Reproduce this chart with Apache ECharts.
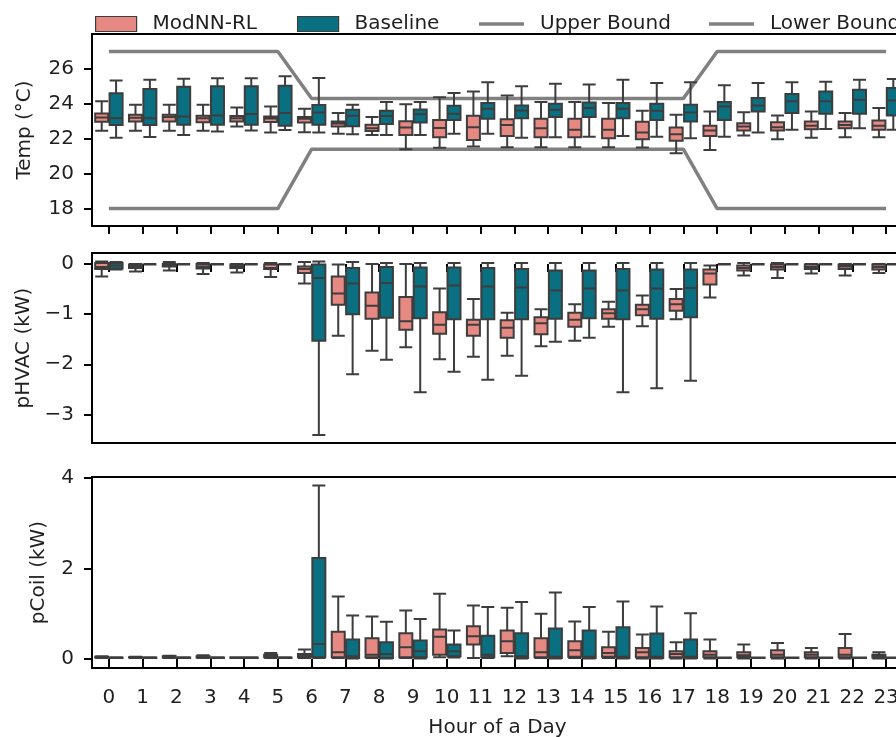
<!DOCTYPE html>
<html>
<head>
<meta charset="UTF-8">
<title>hourly boxplots</title>
<script src="https://cdn.jsdelivr.net/npm/echarts@6/dist/echarts.min.js"></script>
<style>
  body { margin: 0; background: #fff; }
  #chart { width: 896px; height: 737px; }
</style>
</head>
<body>
<div id="chart"></div>
<script>
// hour categories
var hours = ['0','1','2','3','4','5','6','7','8','9','10','11','12','13','14','15','16','17','18','19','20','21','22','23'];

// box stats per hour: [min, q1, median, q3, max]
var tempModNN = [
  [22.45,22.97,23.22,23.45,24.14],[22.45,22.98,23.2,23.37,23.95],[22.45,22.98,23.24,23.37,23.95],
  [22.45,22.95,23.18,23.31,23.95],[22.7,22.98,23.18,23.3,23.79],[22.35,22.96,23.16,23.28,23.85],
  [22.37,22.93,23.14,23.24,23.72],[22.28,22.7,22.87,22.98,23.47],[22.22,22.44,22.6,22.8,23.24],
  [21.4,22.22,22.65,23.0,23.97],[21.48,22.08,22.62,23.08,24.38],[21.55,21.93,22.66,23.31,24.71],
  [21.51,22.16,22.78,23.12,24.48],[21.51,22.08,22.6,23.14,24.1],[21.51,22.08,22.51,23.14,24.1],
  [21.51,22.03,22.51,23.14,24.04],[21.5,21.97,22.35,22.97,23.61],[21.17,21.89,22.26,22.64,23.37],
  [21.36,22.16,22.47,22.74,23.56],[22.18,22.47,22.7,22.89,23.52],[21.97,22.47,22.66,22.95,23.33],
  [22.06,22.55,22.75,22.98,23.56],[22.08,22.6,22.79,22.98,23.47],[22.08,22.51,22.74,23.04,23.76]
];
var tempBaseline = [
  [22.06,22.78,23.18,24.6,25.33],[22.1,22.78,23.18,24.85,25.38],[22.22,22.8,23.27,24.98,25.44],
  [22.41,22.8,23.33,25.0,25.46],[22.47,22.8,23.41,25.0,25.46],[22.5,22.75,23.47,25.04,25.58],
  [22.35,22.8,23.5,23.93,25.48],[22.26,22.72,23.32,23.66,23.94],[22.22,22.85,23.3,23.6,24.1],
  [22.22,22.93,23.4,23.68,24.11],[22.28,23.08,23.43,23.89,24.62],[22.28,23.14,23.72,24.04,25.23],
  [22.06,23.18,23.62,23.91,25.0],[22.08,23.24,23.66,24.0,25.15],[22.12,23.24,23.76,24.08,25.1],
  [22.16,23.18,23.72,24.04,25.38],[22.12,23.08,23.6,24.0,25.19],[22.03,22.98,23.5,23.95,25.23],
  [22.12,23.08,23.85,24.1,25.06],[22.35,23.56,23.91,24.33,25.19],[22.51,23.47,24.14,24.56,25.23],
  [22.56,23.43,24.14,24.71,25.27],[22.6,23.43,24.23,24.81,25.38],[22.51,23.33,24.19,24.91,25.42]
];
var upperBound = [27,27,27,27,27,27,24.3,24.3,24.3,24.3,24.3,24.3,24.3,24.3,24.3,24.3,24.3,24.3,27,27,27,27,27,27];
var lowerBound = [18,18,18,18,18,18,21.4,21.4,21.4,21.4,21.4,21.4,21.4,21.4,21.4,21.4,21.4,21.4,18,18,18,18,18,18];

var hvacModNN = [
  [-0.25,-0.1,-0.06,0.02,0.05],[-0.15,-0.08,-0.05,-0.01,0.0],[-0.13,-0.05,-0.03,0.0,0.04],
  [-0.2,-0.09,-0.05,0.0,0.02],[-0.17,-0.08,-0.04,-0.01,0.0],[-0.26,-0.1,-0.08,-0.01,0.02],
  [-0.39,-0.18,-0.1,-0.05,0.04],[-1.43,-0.81,-0.59,-0.25,-0.01],[-1.73,-1.09,-0.83,-0.57,0.0],
  [-1.66,-1.31,-1.14,-0.66,0.0],[-1.9,-1.39,-1.21,-0.96,-0.49],[-1.85,-1.43,-1.21,-1.11,-0.7],
  [-1.83,-1.47,-1.27,-1.12,-0.97],[-1.64,-1.4,-1.18,-1.06,-0.9],[-1.53,-1.25,-1.11,-0.97,-0.8],
  [-1.25,-1.09,-0.98,-0.9,-0.75],[-1.24,-1.02,-0.9,-0.81,-0.63],[-1.1,-0.93,-0.8,-0.7,-0.5],
  [-0.67,-0.41,-0.19,-0.11,-0.03],[-0.23,-0.13,-0.08,-0.03,0.02],[-0.28,-0.11,-0.06,-0.01,0.02],
  [-0.19,-0.1,-0.06,-0.01,0.0],[-0.23,-0.1,-0.05,-0.01,0.0],[-0.18,-0.11,-0.06,-0.01,0.0]
];
var hvacBaseline = [
  [-0.11,-0.09,-0.03,0.02,0.04],[-0.01,0,0,0,0],[-0.01,0,0,0,0],
  [-0.01,0,0,0,0],[-0.01,0,0,0,0],[-0.01,0,0,0,0],
  [-3.41,-1.53,-0.28,-0.01,0.05],[-2.2,-1.0,-0.39,-0.08,0.04],[-1.91,-1.07,-0.38,-0.06,0.02],
  [-2.56,-1.08,-0.45,-0.07,0.02],[-2.15,-1.1,-0.43,-0.07,0.02],[-2.31,-1.1,-0.45,-0.08,0.02],
  [-2.23,-1.1,-0.47,-0.1,0.02],[-1.55,-1.09,-0.53,-0.13,0.02],[-1.47,-1.08,-0.49,-0.13,0.02],
  [-2.56,-1.1,-0.53,-0.1,0.02],[-2.48,-1.09,-0.49,-0.11,0.02],[-2.33,-1.06,-0.48,-0.11,0.02],
  [-0.01,0,0,0,0],[-0.01,0,0,0,0],[-0.01,0,0,0,0],
  [-0.01,0,0,0,0],[-0.01,0,0,0,0],[-0.01,0,0,0,0]
];

var coilModNN = [
  [0.02,0.03,0.04,0.05,0.06],[0.02,0.03,0.03,0.04,0.05],[0.02,0.03,0.04,0.06,0.07],
  [0.02,0.03,0.04,0.06,0.08],[0.02,0.02,0.03,0.04,0.04],[0.02,0.04,0.06,0.09,0.13],
  [0.02,0.04,0.07,0.11,0.21],[0.02,0.04,0.15,0.6,1.38],[0.02,0.04,0.09,0.46,0.94],
  [0.02,0.04,0.26,0.57,1.07],[0.04,0.09,0.49,0.65,1.44],[0.02,0.32,0.5,0.72,1.18],
  [0.06,0.13,0.39,0.63,1.13],[0.02,0.04,0.15,0.46,1.0],[0.02,0.05,0.19,0.39,0.83],
  [0.02,0.05,0.13,0.26,0.6],[0.01,0.04,0.15,0.24,0.54],[0.01,0.04,0.11,0.17,0.37],
  [0.01,0.04,0.09,0.17,0.43],[0.01,0.04,0.08,0.15,0.32],[0.01,0.04,0.09,0.19,0.35],
  [0.01,0.04,0.09,0.15,0.24],[0.01,0.04,0.09,0.24,0.55],[0.01,0.03,0.05,0.09,0.15]
];
var coilBaseline = [
  [0.02,0.02,0.03,0.03,0.04],[0.02,0.02,0.03,0.03,0.04],[0.02,0.02,0.03,0.03,0.04],
  [0.02,0.02,0.03,0.03,0.04],[0.02,0.02,0.03,0.03,0.04],[0.02,0.02,0.03,0.03,0.04],
  [0.02,0.04,0.33,2.23,3.83],[0.01,0.02,0.06,0.43,0.96],[0.01,0.02,0.11,0.37,0.82],
  [0.01,0.04,0.17,0.41,0.88],[0.03,0.06,0.17,0.32,0.63],[0.02,0.04,0.09,0.51,1.15],
  [0.01,0.02,0.06,0.57,1.26],[0.01,0.02,0.05,0.67,1.47],[0.01,0.02,0.05,0.63,1.15],
  [0.01,0.02,0.05,0.7,1.27],[0.01,0.02,0.05,0.56,1.16],[0.01,0.02,0.05,0.43,1.01],
  [0.02,0.02,0.03,0.03,0.03],[0.02,0.02,0.03,0.03,0.03],[0.02,0.02,0.03,0.03,0.03],
  [0.02,0.02,0.03,0.03,0.03],[0.02,0.02,0.03,0.03,0.03],[0.02,0.02,0.03,0.03,0.03]
];

var PINK = '#e68982', TEAL = '#0a6f80', EDGE = '#3d3d3d', BOUND = '#808080';
var FONT = 'DejaVu Sans', FS = 20, INK = '#1f1f1f';

function minusFmt(v) { return String(v).replace('-', '\u2212'); }

function xAxisFor(idx, showLabels) {
  return {
    type: 'category', gridIndex: idx, data: hours, boundaryGap: true,
    axisLine: { show: false },
    axisTick: { show: true, alignWithLabel: true, length: 8, lineStyle: { color: '#000', width: 2 } },
    axisLabel: { show: showLabels, margin: 20, color: INK, fontFamily: FONT, fontSize: FS },
    name: showLabels ? 'Hour of a Day' : '', nameLocation: 'middle', nameGap: 50,
    nameTextStyle: { color: INK, fontFamily: FONT, fontSize: FS },
    splitLine: { show: false }
  };
}

function yAxisFor(idx, name, min, max, ticks, gap) {
  return {
    type: 'value', gridIndex: idx, min: min, max: max,
    axisLine: { show: false },
    axisTick: { show: true, customValues: ticks, length: 8, lineStyle: { color: '#000', width: 2 } },
    axisLabel: { customValues: ticks, margin: 18, formatter: minusFmt, color: INK, fontFamily: FONT, fontSize: FS },
    splitLine: { show: false },
    name: name, nameLocation: 'middle', nameRotate: 90, nameGap: gap,
    nameTextStyle: { color: INK, fontFamily: FONT, fontSize: FS }
  };
}

function boxSeries(name, idx, data, color) {
  return {
    name: name, type: 'boxplot', xAxisIndex: idx, yAxisIndex: idx,
    data: data, boxWidth: [13, 13],
    itemStyle: { color: color, borderColor: EDGE, borderWidth: 2 },
    emphasis: { disabled: true }
  };
}

function boundSeries(name, data) {
  return {
    name: name, type: 'line', xAxisIndex: 0, yAxisIndex: 0, data: data,
    symbol: 'none', z: 1,
    lineStyle: { color: BOUND, width: 3.5 }, itemStyle: { color: BOUND },
    emphasis: { disabled: true }
  };
}

function legendFor(left, name, icon, color, w, h) {
  return {
    left: left, top: 14, padding: 0, itemWidth: w, itemHeight: h, selectedMode: false,
    data: [{ name: name, icon: icon, itemStyle: { color: color, borderColor: h > 5 ? EDGE : color, borderWidth: h > 5 ? 1.2 : 0 } }],
    textStyle: { color: INK, fontFamily: FONT, fontSize: FS, padding: [0, 0, 0, 11] }
  };
}

function gridAt(top, height) {
  // plots run past the right edge of the picture (cropped figure)
  return { left: 92, width: 811, top: top, height: height, outerBoundsMode: 'none',
    show: true, borderColor: '#000', borderWidth: 2 };
}

var myChart = echarts.init(document.getElementById('chart'), null, { renderer: 'canvas' });

var option = {
  animation: false,
  legend: [
    legendFor(95, 'ModNN-RL', 'rect', PINK, 41, 15),
    legendFor(297, 'Baseline', 'rect', TEAL, 41, 15),
    legendFor(479, 'Upper Bound', 'rect', BOUND, 45, 3.5),
    legendFor(709, 'Lower Bound', 'rect', BOUND, 45, 3.5)
  ],
  grid: [gridAt(34, 192), gridAt(253, 190), gridAt(477, 191)],
  xAxis: [xAxisFor(0, false), xAxisFor(1, false), xAxisFor(2, true)],
  yAxis: [
    yAxisFor(0, 'Temp (\u00b0C)', 17, 28, [18, 20, 22, 24, 26], 57),
    yAxisFor(1, 'pHVAC (kW)', -3.57, 0.22, [-3, -2, -1, 0], 57),
    yAxisFor(2, 'pCoil (kW)', -0.2, 4.02, [0, 2, 4], 43)
  ],
  series: [
    boundSeries('Upper Bound', upperBound),
    boundSeries('Lower Bound', lowerBound),
    boxSeries('ModNN-RL', 0, tempModNN, PINK),
    boxSeries('Baseline', 0, tempBaseline, TEAL),
    boxSeries('ModNN-RL', 1, hvacModNN, PINK),
    boxSeries('Baseline', 1, hvacBaseline, TEAL),
    boxSeries('ModNN-RL', 2, coilModNN, PINK),
    boxSeries('Baseline', 2, coilBaseline, TEAL)
  ]
};
myChart.setOption(option);
</script>
</body>
</html>
